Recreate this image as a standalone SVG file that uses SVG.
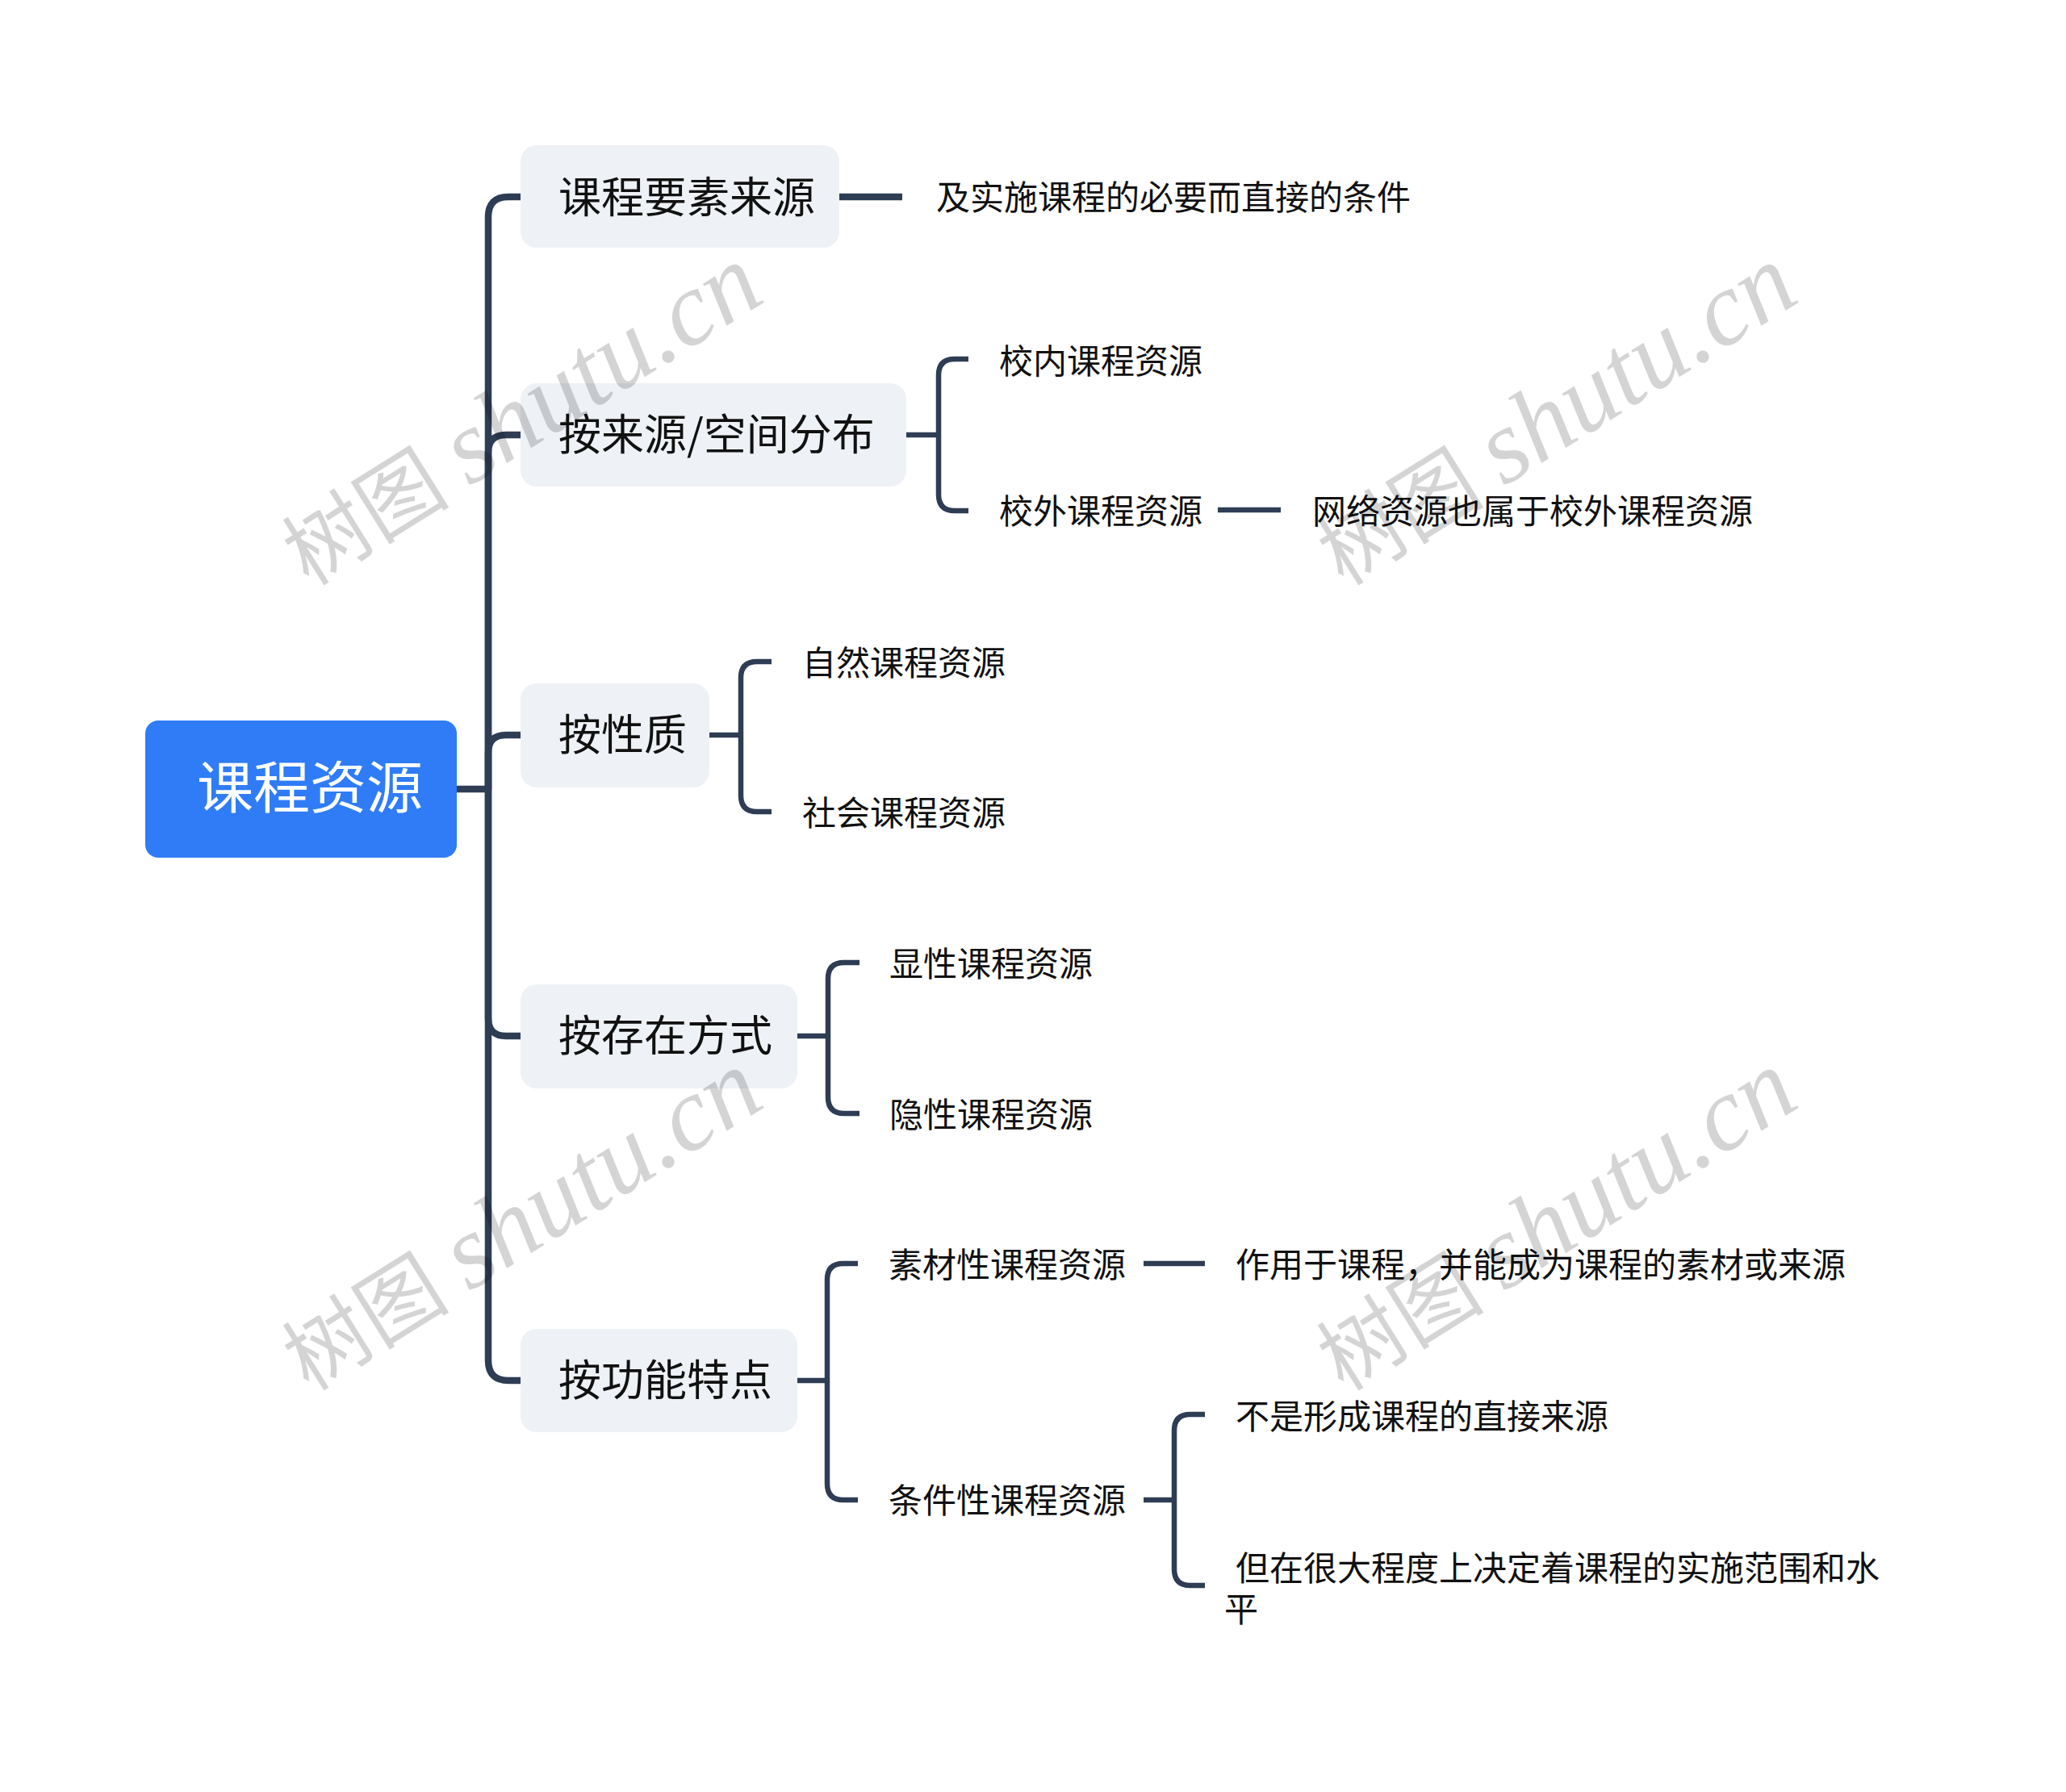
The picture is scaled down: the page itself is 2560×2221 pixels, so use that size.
<svg xmlns="http://www.w3.org/2000/svg" width="2560" height="2221" viewBox="0 0 2560 2221">
<style>
.bg{fill:#ffffff}
.root rect{fill:#2f7cf6}
.root text{fill:#ffffff;font-size:70px}
.l1 rect{fill:#eef1f5}
.l1 text{fill:#111111;font-size:53px}
.l2 text{fill:#111111;font-size:42px}
text{font-family:"Noto Sans CJK SC","Noto Sans",sans-serif}
.c1{fill:none;stroke:#2e3d54;stroke-width:8.5;stroke-linecap:butt;stroke-linejoin:round}
.c2{fill:none;stroke:#2e3d54;stroke-width:6.5;stroke-linecap:butt;stroke-linejoin:round}
.wm text{font-family:"Liberation Serif","Noto Sans CJK SC",serif;font-size:104px;fill:#000000;fill-opacity:0.17;text-anchor:middle}
.wm tspan{font-style:italic;font-size:130px}
</style>
<rect class="bg" x="0" y="0" width="2560" height="2221"/>
<g id="connectors">
<path class="c1" d="M566 978 H605"/>
<path class="c1" d="M605 978 V269 Q605 244 630 244 H645"/>
<path class="c1" d="M605 978 V561 Q605 539 627 539 H645"/>
<path class="c1" d="M605 978 V933 Q605 911 627 911 H645"/>
<path class="c1" d="M605 978 V1262 Q605 1284 627 1284 H645"/>
<path class="c1" d="M605 978 V1686 Q605 1711 630 1711 H645"/>
<path class="c1" d="M1040 244 H1118"/>
<path class="c2" d="M1123 539 H1163"/>
<path class="c2" d="M1163 539 V465 Q1163 445 1183 445 H1200"/>
<path class="c2" d="M1163 539 V613 Q1163 633 1183 633 H1200"/>
<path class="c2" d="M1509 632 H1587"/>
<path class="c2" d="M879 911 H918"/>
<path class="c2" d="M918 911 V840 Q918 820 938 820 H956"/>
<path class="c2" d="M918 911 V986 Q918 1006 938 1006 H956"/>
<path class="c2" d="M988 1284 H1026"/>
<path class="c2" d="M1026 1284 V1213 Q1026 1193 1046 1193 H1065"/>
<path class="c2" d="M1026 1284 V1360 Q1026 1380 1046 1380 H1065"/>
<path class="c2" d="M988 1711 H1025"/>
<path class="c2" d="M1025 1711 V1586 Q1025 1566 1045 1566 H1063"/>
<path class="c2" d="M1025 1711 V1839 Q1025 1859 1045 1859 H1063"/>
<path class="c2" d="M1417 1566 H1493"/>
<path class="c2" d="M1417 1859 H1455"/>
<path class="c2" d="M1455 1859 V1773 Q1455 1753 1475 1753 H1493"/>
<path class="c2" d="M1455 1859 V1945 Q1455 1965 1475 1965 H1493"/>
</g>
<g id="root" class="root">
<rect x="180" y="893" width="386" height="170" rx="16"/>
<text x="244" y="1002">课程资源</text>
</g>
<g id="n1" class="l1">
<rect x="645" y="180" width="395" height="127" rx="20"/>
<text x="692" y="264">课程要素来源</text>
</g>
<g id="n1a" class="l2"><text x="1160" y="260">及实施课程的必要而直接的条件</text></g>
<g id="n2" class="l1">
<rect x="645" y="475" width="478" height="128" rx="20"/>
<text x="692" y="558">按来源/空间分布</text>
</g>
<g id="n2a" class="l2"><text x="1238" y="463">校内课程资源</text></g>
<g id="n2b" class="l2"><text x="1238" y="649">校外课程资源</text></g>
<g id="n2b1" class="l2"><text x="1626" y="649">网络资源也属于校外课程资源</text></g>
<g id="n3" class="l1">
<rect x="645" y="847" width="234" height="129" rx="20"/>
<text x="692" y="930">按性质</text>
</g>
<g id="n3a" class="l2"><text x="994" y="837">自然课程资源</text></g>
<g id="n3b" class="l2"><text x="994" y="1023">社会课程资源</text></g>
<g id="n4" class="l1">
<rect x="645" y="1220" width="343" height="129" rx="20"/>
<text x="692" y="1303">按存在方式</text>
</g>
<g id="n4a" class="l2"><text x="1102" y="1210">显性课程资源</text></g>
<g id="n4b" class="l2"><text x="1102" y="1397">隐性课程资源</text></g>
<g id="n5" class="l1">
<rect x="645" y="1647" width="343" height="128" rx="20"/>
<text x="692" y="1730">按功能特点</text>
</g>
<g id="n5a" class="l2"><text x="1101" y="1583">素材性课程资源</text></g>
<g id="n5a1" class="l2"><text x="1531" y="1583">作用于课程，并能成为课程的素材或来源</text></g>
<g id="n5b" class="l2"><text x="1101" y="1875">条件性课程资源</text></g>
<g id="n5b1" class="l2"><text x="1531" y="1771">不是形成课程的直接来源</text></g>
<g id="n5b2" class="l2"><text x="1531" y="1959">但在很大程度上决定着课程的实施范围和水</text><text x="1517" y="2010">平</text></g>
<g id="watermark" class="wm">
<text x="645" y="556" transform="rotate(-32 645 514)">树图 <tspan>shutu.cn</tspan></text>
<text x="1927" y="556" transform="rotate(-32 1927 514)">树图 <tspan>shutu.cn</tspan></text>
<text x="645" y="1554" transform="rotate(-32 645 1512)">树图 <tspan>shutu.cn</tspan></text>
<text x="1927" y="1554" transform="rotate(-32 1927 1512)">树图 <tspan>shutu.cn</tspan></text>
</g>
</svg>
